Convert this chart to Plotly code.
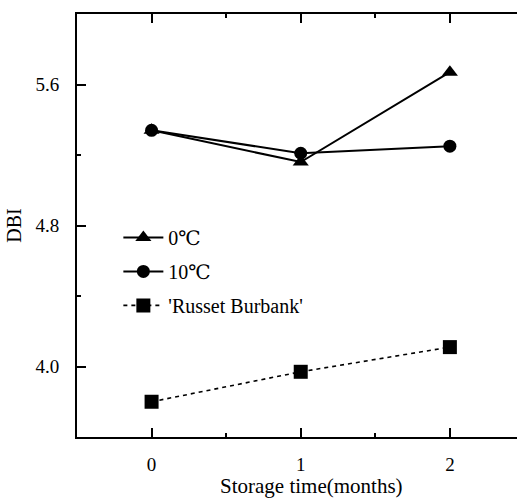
import plotly.graph_objects as go

# Storage time (months)
months = [0, 1, 2]

# DBI values per series
dbi_0c = [5.34, 5.16, 5.67]
dbi_10c = [5.34, 5.21, 5.25]
dbi_russet = [3.80, 3.97, 4.11]

series_names = ["0\u2103", "10\u2103", "'Russet Burbank'"]

FONT = "Liberation Serif, Times New Roman, DejaVu Serif, serif"

fig = go.Figure()
fig.add_trace(go.Scatter(
    x=months, y=dbi_0c, name=series_names[0], mode="lines+markers",
    line=dict(color="black", width=2),
    marker=dict(symbol="triangle-up", size=14, color="black"),
    legendgroup="a",
))
fig.add_trace(go.Scatter(
    x=months, y=dbi_10c, name=series_names[1], mode="lines+markers",
    line=dict(color="black", width=2),
    marker=dict(symbol="circle", size=13, color="black"),
    legendgroup="b",
))
fig.add_trace(go.Scatter(
    x=months, y=dbi_russet, name=series_names[2], mode="lines+markers",
    line=dict(color="black", width=1.6, dash="4px,4px"),
    marker=dict(symbol="square", size=14, color="black"),
    legendgroup="c",
))

tick_style = dict(ticks="inside", ticklen=9, tickwidth=2, tickcolor="black")

fig.update_layout(
    template="none",
    width=517, height=498,
    margin=dict(l=77, r=0, t=14, b=61),
    paper_bgcolor="white", plot_bgcolor="white",
    font=dict(family=FONT, size=19, color="black"),
    showlegend=True,
    legend=dict(
        x=0.094, y=0.518, xanchor="left", yanchor="top",
        font=dict(family=FONT, size=20, color="black"),
        bgcolor="rgba(0,0,0,0)", borderwidth=0,
        tracegroupgap=5, itemwidth=40,
    ),
    xaxis=dict(
        range=[-0.5, 2.45], tickmode="linear", tick0=0, dtick=1,
        showline=True, linecolor="black", linewidth=2, mirror="ticks",
        **tick_style,
        minor=dict(dtick=0.5, tick0=0, ticks="inside", ticklen=4, tickwidth=1.5,
                   tickcolor="black", showgrid=False),
        showgrid=False, zeroline=False,
        ticklabelstandoff=9,
    ),
    yaxis=dict(
        range=[3.6, 6.0], tickmode="linear", tick0=4.0, dtick=0.8, tickformat=".1f",
        showline=True, linecolor="black", linewidth=2, mirror=False,
        **tick_style,
        minor=dict(dtick=0.4, tick0=4.0, ticks="inside", ticklen=4, tickwidth=1.5,
                   tickcolor="black", showgrid=False),
        showgrid=False, zeroline=False,
        ticklabelstandoff=12,
        title=dict(text="DBI", font=dict(family=FONT, size=20), standoff=8),
    ),
)

# x-axis title, sitting just under the tick labels
fig.add_annotation(
    text="Storage time(months)", xref="paper", yref="paper",
    x=0.534, y=-0.115, xanchor="center", yanchor="middle", showarrow=False,
    font=dict(family=FONT, size=21, color="black"),
)

fig.write_html("out.html")
